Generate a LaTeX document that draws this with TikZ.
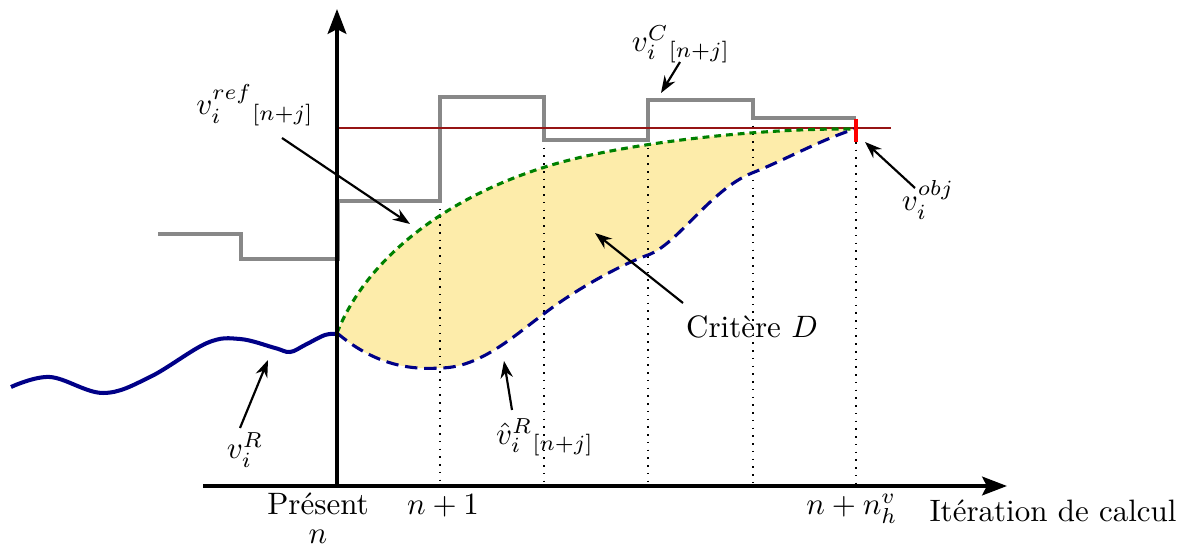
\documentclass[tikz,border=0pt]{standalone}
\usepackage{fontspec}
\usepackage{amsmath}
\usetikzlibrary{arrows.meta,positioning}
\definecolor{consgray}{RGB}{136,136,136}
\definecolor{objred}{RGB}{150,20,20}
\definecolor{predblue}{RGB}{0,0,135}
\definecolor{refgreen}{RGB}{0,128,0}
\definecolor{critfill}{RGB}{253,236,170}
\tikzset{
  axis/.style={line width=1.3pt, -{Stealth[length=8pt,width=6pt,inset=1.5pt]}},
  lbl/.style={->, >={Stealth[length=5.5pt,width=4pt]}, line width=0.7pt},
  iter/.style={dotted, line width=0.5pt}
}

\begin{document}
\begin{tikzpicture}[x=0.01135cm, y=-0.01135cm]
  \useasboundingbox (0,0) rectangle (1194,548);
  \coordinate (orig) at (337,486);
  \coordinate (ytop) at (337,9);
  \coordinate (xleft) at (203,486);
  \coordinate (xright) at (1007,486);
  \coordinate (start) at (337,333);
  \coordinate (goal) at (855,129);
  \fill[critfill] (start) .. controls (365,262) and (440,200) .. (545,167)
    .. controls (620,143) and (760,128) .. (goal)
    .. controls (820,140) and (785,160) .. (752,173)
    .. controls (710,190) and (678,244) .. (648,255)
    .. controls (620,265) and (575,290) .. (545,313)
    .. controls (515,335) and (480,368) .. (440,368)
    .. controls (410,370) and (375,365) .. (start) -- cycle;
  \foreach \xi/\yi in {440/201, 544/140, 648/140, 753/118, 856/142}
    \draw[iter] (\xi,\yi) -- (\xi,486);
  \draw[consgray, line width=1pt] (158,234) -- (241,234) -- (241,259) -- (338,259) -- (338,201) -- (440,201) -- (440,97) -- (544,97) -- (544,140) -- (648,140) -- (648,100) -- (753,100) -- (753,118) -- (856,118);
  \draw[objred, line width=0.7pt] (337,128) -- (891,128);
  \draw[predblue, line width=1.3pt] plot[smooth, tension=0.6] coordinates {(11,387) (50,377) (103,393) (150,377) (207,343) (240,339) (275,348) (290,352) (305,345) (325,335) (337,334)};
  \draw[refgreen, line width=1pt, dash pattern=on 2.2pt off 1.6pt] (start) .. controls (365,262) and (440,200) .. (545,167)
    .. controls (620,143) and (760,128) .. (goal);
  \draw[predblue, line width=1pt, dash pattern=on 4pt off 2.2pt] (start) .. controls (375,365) and (410,370) .. (440,368)
    .. controls (480,368) and (515,335) .. (545,313)
    .. controls (575,290) and (620,265) .. (648,255)
    .. controls (678,244) and (710,190) .. (752,173)
    .. controls (785,160) and (820,140) .. (goal);
  \draw[red, line width=1.6pt] (856,119) -- (856,142);
  \draw[axis] (xleft) -- (xright);
  \draw[axis] (orig) -- (ytop);
  \node (vref) at (255,105) {$v_i^{ref}{}_{[n+j]}$};
  \node (vcons) at (681,44) {$v_i^{C}{}_{[n+j]}$};
  \node (vobj) at (928,200) {$v_i^{obj}$};
  \node (vreal) at (245,450) {$v_i^{R}$};
  \node (vpred) at (545,437) {$\hat{v}_i^{R}{}_{[n+j]}$};
  \node (crit) at (752,327) {Critère $D$};
  \node[anchor=base] (present) at (318,515) {Présent};
  \node[anchor=base] (now) at (318,544) {$n$};
  \node[anchor=base] (next) at (443,515) {$n+1$};
  \node[anchor=base] (horizon) at (852,515) {$n+n_h^v$};
  \node[anchor=base] (xlabel) at (1053,522) {Itération de calcul};
  \coordinate (vrefs) at (282,138);
  \coordinate (vreft) at (410,224);
  \coordinate (vconss) at (680,62);
  \coordinate (vconst) at (661,93);
  \coordinate (vobjs) at (915,188);
  \coordinate (vobjt) at (865,142);
  \coordinate (vreals) at (240,428);
  \coordinate (vrealt) at (268,360);
  \coordinate (vpreds) at (512,410);
  \coordinate (vpredt) at (504,361);
  \coordinate (crits) at (683,303);
  \coordinate (critt) at (595,233);
  \draw[lbl] (vrefs) -- (vreft);
  \draw[lbl] (vconss) -- (vconst);
  \draw[lbl] (vobjs) -- (vobjt);
  \draw[lbl] (vreals) -- (vrealt);
  \draw[lbl] (vpreds) -- (vpredt);
  \draw[lbl] (crits) -- (critt);
\end{tikzpicture}
\end{document}
